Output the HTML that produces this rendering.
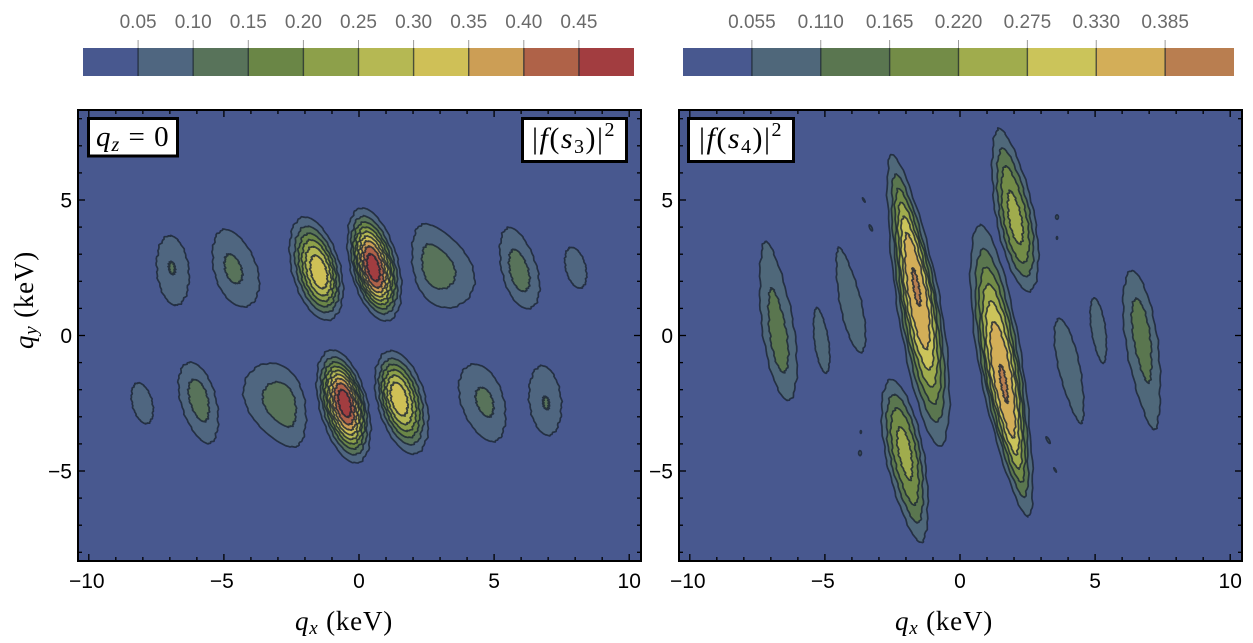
<!DOCTYPE html>
<html lang="en">
<head>
<meta charset="utf-8">
<title>Contour plots of form factors</title>
<style>
html,body{margin:0;padding:0;background:#fff;width:1253px;height:643px;overflow:hidden}
svg{display:block}
.tick{font-family:"Liberation Sans",sans-serif;font-size:21px;fill:#000}
.cbtick{font-family:"Liberation Sans",sans-serif;font-size:19px;fill:#6a6a6a;text-anchor:middle}
.math{font-family:"Liberation Serif",serif;fill:#000}
</style>
</head>
<body>
<svg id="figure" xmlns="http://www.w3.org/2000/svg" width="1253" height="643" viewBox="0 0 1253 643">
  <defs>
    <filter id="soft" x="-2%" y="-2%" width="104%" height="104%"><feGaussianBlur stdDeviation="0.3"/></filter>
    <clipPath id="clip-s3"><rect x="78" y="110" width="563" height="451"/></clipPath>
    <clipPath id="clip-s4"><rect x="679" y="110" width="563" height="451"/></clipPath>
  </defs>
  <g id="panel-s3"></g>
  <g id="panel-s4"></g>

  <g>
    <rect x="88.5" y="118.5" width="89" height="37.5" fill="#fff" stroke="#000" stroke-width="3"/>
    <text class="math" x="96" y="146" font-size="29" letter-spacing="1"><tspan font-style="italic">q</tspan><tspan font-style="italic" font-size="20" dy="5">z</tspan><tspan dy="-5"> = 0</tspan></text>
  </g>
  <g>
    <rect x="522.5" y="118.5" width="104" height="43" fill="#fff" stroke="#000" stroke-width="3"/>
    <text class="math" x="532" y="148" font-size="30" letter-spacing="1.5">|<tspan font-style="italic">f</tspan>(<tspan font-style="italic">s</tspan><tspan font-size="20" dy="5">3</tspan><tspan dy="-5">)|</tspan><tspan font-size="20" dy="-12">2</tspan></text>
  </g>
  <g>
    <rect x="688.5" y="118.5" width="105" height="43" fill="#fff" stroke="#000" stroke-width="3"/>
    <text class="math" x="699" y="148" font-size="30" letter-spacing="1.5">|<tspan font-style="italic">f</tspan>(<tspan font-style="italic">s</tspan><tspan font-size="20" dy="5">4</tspan><tspan dy="-5">)|</tspan><tspan font-size="20" dy="-12">2</tspan></text>
  </g>

  <text class="math" x="344" y="630" font-size="27" letter-spacing="0.8" text-anchor="middle"><tspan font-style="italic">q</tspan><tspan font-style="italic" font-size="19" dy="4">x</tspan><tspan dy="-4">  (keV)</tspan></text>
  <text class="math" x="944" y="630" font-size="27" letter-spacing="0.8" text-anchor="middle"><tspan font-style="italic">q</tspan><tspan font-style="italic" font-size="19" dy="4">x</tspan><tspan dy="-4">  (keV)</tspan></text>
  <text class="math" x="33" y="300" font-size="27" letter-spacing="0.8" text-anchor="middle" transform="rotate(-90 33 300)"><tspan font-style="italic">q</tspan><tspan font-style="italic" font-size="19" dy="4">y</tspan><tspan dy="-4">  (keV)</tspan></text>
</svg>

<script>
// Axis tick values and labels (keV)
const xMajorTicks = [-10, -5, 0, 5, 10];
const xMajorLabels = ['\u221210', '\u22125', '0', '5', '10'];
const yMajorTicks = [-5, 0, 5];
const yMajorLabels = ['\u22125', '0', '5'];
const xMinorTicks = [-10, -9, -8, -7, -6, -5, -4, -3, -2, -1, 0, 1, 2, 3, 4, 5, 6, 7, 8, 9, 10];
const yMinorTicks = [-8, -7, -6, -5, -4, -3, -2, -1, 0, 1, 2, 3, 4, 5, 6, 7, 8];

// |f(s3)|^2 contour levels
const s3Levels = [0.05, 0.10, 0.15, 0.20, 0.25, 0.30, 0.35, 0.40, 0.45];
const s3LevelLabels = ['0.05', '0.10', '0.15', '0.20', '0.25', '0.30', '0.35', '0.40', '0.45'];
const s3BarMax = 0.50;
const s3Colors = ['#48588f', '#4f6680', '#58735a', '#6a8646', '#8da04a', '#b5b853', '#cfc057', '#cc9e55', '#af6248', '#a23d40'];

// |f(s3)|^2 lobes: centre (keV), peak value, half-extents at lowest level (keV), tilt (deg), peak displacement (keV), taper
const s3Qx =     [-6.89, -4.59, -1.59, 0.56, 3.00, 5.92, 8.02, -8.02, -5.92, -3.00, -0.56, 1.59, 4.59, 6.89];
const s3Qy =     [2.40, 2.49, 2.47, 2.62, 2.60, 2.49, 2.50, -2.50, -2.49, -2.60, -2.62, -2.47, -2.49, -2.40];
const s3Peak =   [0.101, 0.107, 0.335, 0.48, 0.12, 0.118, 0.08, 0.08, 0.118, 0.12, 0.48, 0.335, 0.107, 0.101];
const s3Major =  [1.29, 1.48, 1.96, 2.14, 1.64, 1.54, 0.77, 0.77, 1.54, 1.64, 2.14, 1.96, 1.48, 1.29];
const s3Minor =  [0.59, 0.78, 0.89, 0.89, 1.03, 0.645, 0.37, 0.37, 0.645, 1.03, 0.89, 0.89, 0.78, 0.59];
const s3Tilt =   [6, 18, 15, 14, 25, 15, 14, 14, 15, 25, 14, 15, 18, 6];
const s3PeakDx = [-0.04, -0.11, 0.15, -0.04, -0.24, 0, 0, 0, 0, 0.24, 0.04, -0.15, 0.11, 0.04];
const s3PeakDy = [0.11, -0.04, -0.18, -0.15, -0.08, -0.18, 0, 0, 0.18, 0.08, 0.15, 0.18, 0.04, -0.11];
const s3Bend =   [0, 0, 0, 0, 0, 0, 0, 0, 0, 0, 0, 0, 0, 0];
const s3Taper =  [0, 0.1, 0.03, 0.03, 0.28, 0.1, 0, 0, -0.1, -0.28, -0.03, -0.03, -0.1, 0];

// |f(s4)|^2 contour levels
const s4Levels = [0.055, 0.110, 0.165, 0.220, 0.275, 0.330, 0.385];
const s4LevelLabels = ['0.055', '0.110', '0.165', '0.220', '0.275', '0.330', '0.385'];
const s4BarMax = 0.44;
const s4Colors = ['#48588f', '#4f677a', '#5a7650', '#738c47', '#a0ac4d', '#cbc45a', '#d3ae58', '#b97e50'];

// |f(s4)|^2 lobes, followed by the eight small specks just above the lowest level
const s4Qx =     [-6.77, -5.13, -4.07, -1.55, 1.55, 2.00, -2.00, 6.77, 5.13, 4.07, -3.56, -3.30, 3.59, 3.59, 3.26, 3.52, -3.67, -3.70];
const s4Qy =     [0.54, -0.18, 1.31, 1.31, -1.31, 4.63, -4.63, -0.54, 0.18, -1.31, 5.00, 3.97, 4.37, 3.60, -3.86, -4.96, -3.56, -4.34];
const s4Peak =   [0.128, 0.08, 0.085, 0.388, 0.388, 0.236, 0.236, 0.128, 0.08, 0.085, 0.06, 0.06, 0.06, 0.06, 0.06, 0.06, 0.06, 0.06];
const s4Major =  [2.97, 1.22, 1.98, 5.46, 5.46, 3.06, 3.06, 2.97, 1.22, 1.98, 0.09, 0.12, 0.08, 0.05, 0.14, 0.09, 0.05, 0.09];
const s4Minor =  [0.58, 0.26, 0.39, 0.80, 0.80, 0.70, 0.70, 0.58, 0.26, 0.39, 0.02, 0.04, 0.05, 0.02, 0.04, 0.02, 0.02, 0.05];
const s4Tilt =   [8.2, 8, 12, 9.4, 9.4, 10.6, 10.6, 8.2, 8, 12, 30, 25, 0, 0, 30, 30, 0, 0];
const s4PeakDx = [0.05, 0, 0, -0.08, 0.08, 0.05, -0.05, -0.05, 0, 0, 0, 0, 0, 0, 0, 0, 0, 0];
const s4PeakDy = [-0.74, 0, 0, 0.55, -0.55, -0.40, 0.40, 0.74, 0, 0, 0, 0, 0, 0, 0, 0, 0, 0];
const s4Bend =   [0, 0, 0, 0.08, -0.08, 0, 0, 0, 0, 0, 0, 0, 0, 0, 0, 0, 0, 0];
const s4Taper =  [0.2, 0.1, 0.2, 0.15, -0.15, 0.15, -0.15, -0.2, -0.1, -0.2, 0, 0, 0, 0, 0, 0, 0, 0];

const SVGNS = 'http://www.w3.org/2000/svg';
const PX_PER_KEV_X = 27.02;
const PX_PER_KEV_Y = 27.1;
const Y_ZERO = 335.5;
const CONTOUR_STEPS = 96;

function make(tag, parent, attrs) {
  const el = document.createElementNS(SVGNS, tag);
  Object.keys(attrs).forEach(function (k) { el.setAttribute(k, attrs[k]); });
  parent.appendChild(el);
  return el;
}

function contourScale(p, peak, level, base) {
  return Math.pow(Math.log(peak / level) / Math.log(peak / base), p.power);
}

function lobePoints(p, i, level) {
  const s = contourScale(p, p.peak[i], level, p.levels[0]);
  const t = p.tilt[i] * Math.PI / 180;
  const cx = p.qx[i] + (1 - s) * p.dx[i];
  const cy = p.qy[i] + (1 - s) * p.dy[i];
  const a = p.major[i];
  const b = p.minor[i];
  const wobble = Math.min(0.55, b * PX_PER_KEV_X * 0.04);
  const pts = [];
  for (let k = 0; k < CONTOUR_STEPS; k++) {
    const th = 2 * Math.PI * k / CONTOUR_STEPS;
    const c = Math.cos(th);
    const sn = Math.sin(th);
    const un = Math.sign(c) * Math.pow(Math.abs(c), 2 / p.shape);
    const u = a * s * un;
    const v = b * s * Math.sign(sn) * Math.pow(Math.abs(sn), 2 / p.shape) * (1 - p.taper[i] * un) - p.bend[i] * (u / a) * (u / a);
    const qx = cx - u * Math.sin(t) + v * Math.cos(t);
    const qy = cy + u * Math.cos(t) + v * Math.sin(t);
    const j = wobble * (Math.sin(13 * th + i * 1.7 + level * 40) + Math.sin(29 * th + i * 2.3));
    pts.push((p.x(qx) + j).toFixed(1) + ',' + (p.y(qy) + j * 0.6).toFixed(1));
  }
  return pts.join(' ');
}

function drawColorbar(root, p) {
  const left = p.barLeft;
  const width = p.barWidth;
  const barX = function (v) { return left + width * v / p.barMax; };
  const edges = [0].concat(p.levels, [p.barMax]);
  for (let i = 0; i < p.colors.length; i++) {
    const seg = make('rect', root, { x: barX(edges[i]), y: 48, width: barX(edges[i + 1]) - barX(edges[i]), height: 28, fill: p.colors[i] });
    
    
  }
  p.levels.forEach(function (lv, i) {
    const x = barX(lv);
    const tick = make('line', root, { x1: x, x2: x, y1: 40, y2: 48, stroke: '#9a9a9a', 'stroke-width': 1 });
    
    
    const div = make('line', root, { x1: x, x2: x, y1: 48, y2: 76, stroke: 'rgba(20,30,40,0.7)', 'stroke-width': 1.4 });
    
    
    const label = make('text', root, { x: x, y: 28, 'class': 'cbtick' });
    label.textContent = p.labels[i];
    
    
  });
}

function drawContours(root, p) {
  const plot = make('g', root, { 'clip-path': 'url(#' + p.clip + ')' });
  
  
  const bg = make('rect', plot, { x: p.left, y: p.top, width: p.right - p.left, height: p.bottom - p.top, fill: p.colors[0] });
  
  
  const bands = make('g', plot, { filter: 'url(#soft)' });
  
  
  p.levels.forEach(function (lv, li) {
    for (let i = 0; i < p.qx.length; i++) {
      if (p.peak[i] <= lv) continue;
      const band = make('polygon', bands, {
        points: lobePoints(p, i, lv),
        fill: p.colors[li + 1],
        stroke: 'rgba(28,38,52,0.82)',
        'stroke-width': 1.7,
        'stroke-linejoin': 'round'
      });
      
      
    }
  });
}

function drawAxes(root, p) {
  const frame = make('rect', root, { x: p.left, y: p.top, width: p.right - p.left, height: p.bottom - p.top, fill: 'none', stroke: '#000', 'stroke-width': 2 });
  
  
  xMinorTicks.forEach(function (q) {
    const x = p.x(q);
    const len = xMajorTicks.indexOf(q) >= 0 ? 7 : 4;
    const b = make('line', root, { x1: x, x2: x, y1: p.bottom, y2: p.bottom - len, stroke: '#000', 'stroke-width': 1.3 });
    
    
    const t = make('line', root, { x1: x, x2: x, y1: p.top, y2: p.top + len, stroke: '#000', 'stroke-width': 1.3 });
    
    
  });
  yMinorTicks.forEach(function (q) {
    const y = p.y(q);
    const len = yMajorTicks.indexOf(q) >= 0 ? 7 : 4;
    const l = make('line', root, { x1: p.left, x2: p.left + len, y1: y, y2: y, stroke: '#000', 'stroke-width': 1.3 });
    
    
    const r = make('line', root, { x1: p.right, x2: p.right - len, y1: y, y2: y, stroke: '#000', 'stroke-width': 1.3 });
    
    
  });
  xMajorTicks.forEach(function (q, i) {
    const label = make('text', root, { x: p.x(q) - (q < 0 ? 2 : 0), y: 588, 'class': 'tick', 'text-anchor': 'middle' });
    label.textContent = xMajorLabels[i];
    
    
  });
  yMajorTicks.forEach(function (q, i) {
    const label = make('text', root, { x: p.left - 6, y: p.y(q) + 7.5, 'class': 'tick', 'text-anchor': 'end' });
    label.textContent = yMajorLabels[i];
    
    
  });
}

function yAxis(q) { return Y_ZERO - PX_PER_KEV_Y * q; }

const panelS3 = {
  left: 78, right: 641, top: 110, bottom: 561, clip: 'clip-s3',
  barLeft: 83, barWidth: 551, barMax: s3BarMax,
  x: function (q) { return 359 + PX_PER_KEV_X * q; }, y: yAxis, shape: 1.95, power: 0.4,
  levels: s3Levels, labels: s3LevelLabels, colors: s3Colors,
  qx: s3Qx, qy: s3Qy, peak: s3Peak, major: s3Major, minor: s3Minor, tilt: s3Tilt, dx: s3PeakDx, dy: s3PeakDy, bend: s3Bend, taper: s3Taper
};
const panelS4 = {
  left: 679, right: 1242, top: 110, bottom: 561, clip: 'clip-s4',
  barLeft: 683, barWidth: 551, barMax: s4BarMax,
  x: function (q) { return 960 + PX_PER_KEV_X * q; }, y: yAxis, shape: 1.8, power: 0.37,
  levels: s4Levels, labels: s4LevelLabels, colors: s4Colors,
  qx: s4Qx, qy: s4Qy, peak: s4Peak, major: s4Major, minor: s4Minor, tilt: s4Tilt, dx: s4PeakDx, dy: s4PeakDy, bend: s4Bend, taper: s4Taper
};

[[document.getElementById('panel-s3'), panelS3], [document.getElementById('panel-s4'), panelS4]].forEach(function (pair) {
  drawColorbar(pair[0], pair[1]);
  drawContours(pair[0], pair[1]);
  drawAxes(pair[0], pair[1]);
});
</script>
</body>
</html>
